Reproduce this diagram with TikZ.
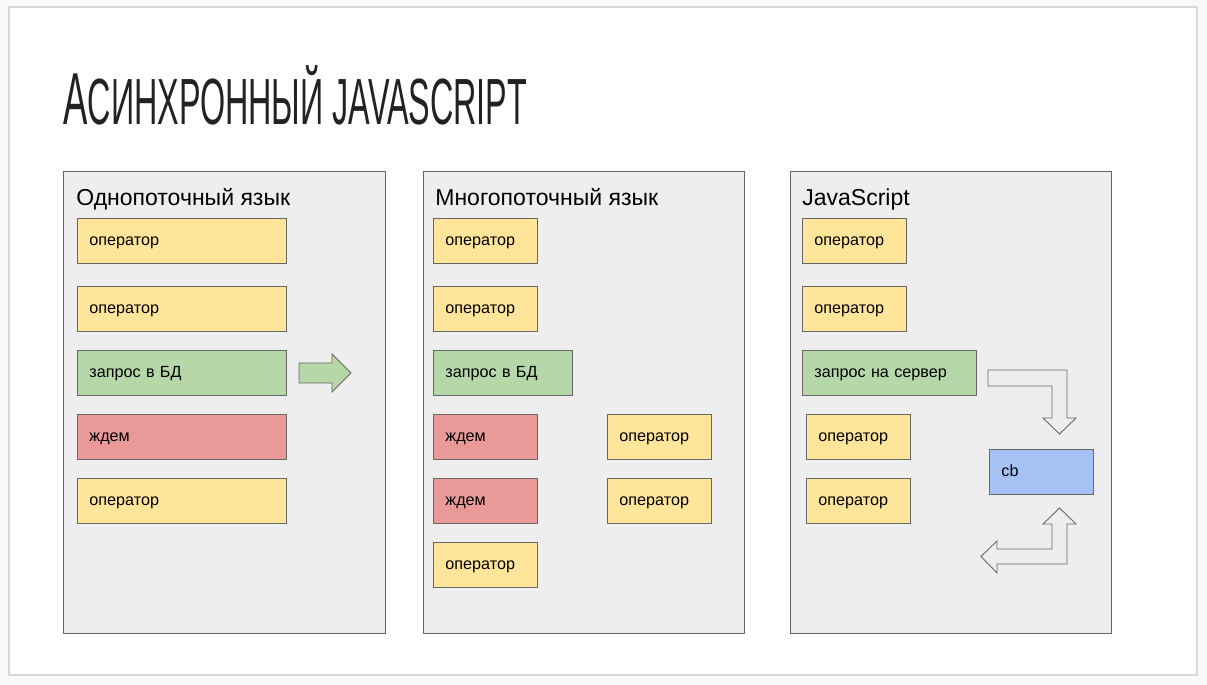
\documentclass[tikz,border=0pt]{standalone}
\usepackage{fontspec}
\setmainfont{Liberation Sans}
\usepackage{graphicx}
\definecolor{outerbg}{HTML}{F8F9FA}
\definecolor{slideline}{HTML}{D5D7DB}
\definecolor{panelbg}{HTML}{EEEEEE}
\definecolor{panelline}{HTML}{666666}
\definecolor{opyellow}{HTML}{FFE599}
\definecolor{opgreen}{HTML}{B6D7A8}
\definecolor{opred}{HTML}{EA9999}
\definecolor{opblue}{HTML}{A4C2F4}
\definecolor{titlecol}{HTML}{222222}
\tikzset{
  panel/.style={draw=panelline, fill=panelbg, line width=0.5pt},
  ptitle/.style={anchor=base west, inner sep=0pt, font=\fontsize{13.1}{15}\selectfont},
  box/.style={draw=panelline, line width=0.5pt, anchor=north west, minimum height=0.9cm,
    inner xsep=0.24cm, inner ysep=0pt, align=left, text height=0.72em, text depth=0.21em,
    font=\fontsize{9.2}{10}\selectfont},
  w209/.style={text width=3.70cm},
  w104/.style={text width=1.60cm},
  w139/.style={text width=2.30cm},
  w174/.style={text width=3.00cm},
  yel/.style={fill=opyellow},
  grn/.style={fill=opgreen},
  rd/.style={fill=opred},
  blu/.style={fill=opblue},
  flowarrow/.style={draw=panelline, line width=0.5pt, line join=miter},
}
\begin{document}
\begin{tikzpicture}[x=0.02cm, y=-0.02cm]
\fill[outerbg] (0,0) rectangle (1207,685);
\useasboundingbox (0,0) rectangle (1207,685);
\draw[slideline, fill=white, line width=0.8pt] (9,7) rectangle (1197,675);

% title
\node[anchor=south west, inner sep=0pt, text=titlecol] (title) at (63,125)
  {\resizebox{9.28cm}{1.18cm}{{\fontsize{44}{50}\selectfont А}{\fontsize{39}{44}\selectfont СИНХРОННЫЙ JAVASCRIPT}}};

% panels
\draw[panel] (63,171) rectangle (385,633);
\draw[panel] (423,171) rectangle (744,633);
\draw[panel] (790,171) rectangle (1111,633);

\node[ptitle] (t1) at (76,206) {Однопоточный язык};
\node[ptitle] (t2) at (435,206) {Многопоточный язык};
\node[ptitle] (t3) at (802,206) {JavaScript};

% panel 1
\node[box, w209, yel] (a1) at (77,218) {оператор};
\node[box, w209, yel] (a2) at (77,286) {оператор};
\node[box, w209, grn] (a3) at (77,350) {запрос в БД};
\node[box, w209, rd]  (a4) at (77,414) {ждем};
\node[box, w209, yel] (a5) at (77,478) {оператор};
\draw[flowarrow, fill=opgreen] (299,363) -- (332,363) -- (332,354) -- (351,373) -- (332,392) -- (332,383) -- (299,383) -- cycle;

% panel 2
\node[box, w104, yel] (b1) at (433,218) {оператор};
\node[box, w104, yel] (b2) at (433,286) {оператор};
\node[box, w139, grn] (b3) at (433,350) {запрос в БД};
\node[box, w104, rd]  (b4) at (433,414) {ждем};
\node[box, w104, rd]  (b5) at (433,478) {ждем};
\node[box, w104, yel] (b6) at (433,542) {оператор};
\node[box, w104, yel] (b7) at (607,414) {оператор};
\node[box, w104, yel] (b8) at (607,478) {оператор};

% panel 3
\node[box, w104, yel] (c1) at (802,218) {оператор};
\node[box, w104, yel] (c2) at (802,286) {оператор};
\node[box, w174, grn] (c3) at (802,350) {запрос на сервер};
\node[box, w104, yel] (c4) at (806,414) {оператор};
\node[box, w104, yel] (c5) at (806,478) {оператор};
\node[box, w104, blu] (cb) at (989,449) {cb};

\draw[flowarrow, fill=panelbg] (988,370) -- (1067,370) -- (1067,418) -- (1076,418) -- (1059.5,434)
  -- (1043,418) -- (1052,418) -- (1052,386) -- (988,386) -- cycle;
\draw[flowarrow, fill=panelbg] (1059.5,508) -- (1076,524) -- (1067,524) -- (1067,564) -- (997,564)
  -- (997,573) -- (981,556.5) -- (997,541) -- (997,549) -- (1052,549) -- (1052,524) -- (1043,524) -- cycle;
\end{tikzpicture}
\end{document}
